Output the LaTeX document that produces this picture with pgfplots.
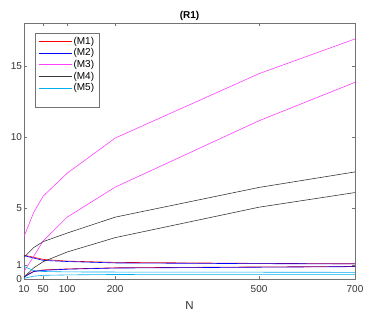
\documentclass[border=0pt]{standalone}
\usepackage{fontspec}
\setmainfont{Liberation Sans}
\usepackage{pgfplots}
\pgfplotsset{compat=1.18}
\definecolor{axgray}{gray}{0.45}
\definecolor{m4}{gray}{0.22}
\definecolor{m3}{rgb}{1,0.25,1}
\begin{document}
\begin{tikzpicture}
\begin{axis}[
  width=331pt, height=256pt, scale only axis,
  xmin=10, xmax=700, ymin=0, ymax=18,
  xtick={10,50,100,200,500,700},
  ytick={0,1,5,10,15},
  yticklabels={0\hspace{4pt},1\hspace{4pt},5,10,15},
  tick align=inside,
  major tick length=3pt,
  axis line style={axgray},
  tick style={axgray, line width=0.4pt},
  every tick label/.append style={font=\fontsize{10}{12}\selectfont, text=black!80},
  yticklabel style={xshift=1.5pt},
  xticklabel style={yshift=-3pt},
  /pgf/number format/assume math mode=true,
  xlabel={N},
  xlabel style={font=\fontsize{11.5}{13}\selectfont, text=black!80, yshift=-2pt},
  title={\textbf{(R1)}},
  title style={font=\fontsize{10}{12}\selectfont, yshift=-7pt},
  legend style={at={(rel axis cs:0.04,0.958)}, anchor=north west, draw=none, fill=white, font=\fontsize{10}{12}\selectfont, row sep=0pt, inner sep=1pt, nodes={inner sep=1.5pt}},
  legend cell align=left,
  legend image code/.code={\draw[#1] (0pt,0pt) -- (33pt,0pt);},
  every axis plot/.append style={line width=0.6pt},
]
\addlegendimage{draw=red, line width=0.6pt}
\addlegendentry{(M1)}
\addlegendimage{draw=blue, line width=0.6pt}
\addlegendentry{(M2)}
\addlegendimage{draw=m3, line width=0.6pt}
\addlegendentry{(M3)}
\addlegendimage{draw=m4, line width=0.6pt}
\addlegendentry{(M4)}
\addlegendimage{draw=cyan, line width=0.6pt}
\addlegendentry{(M5)}
% M1 red
\addplot[draw=red, forget plot] coordinates {(10,1.70) (30,1.55) (50,1.40) (100,1.28) (200,1.19) (500,1.12) (700,1.09)};
\addplot[draw=red, forget plot] coordinates {(10,0.18) (30,0.56) (50,0.66) (100,0.73) (200,0.81) (500,0.87) (700,0.90)};
% M2 blue
\addplot[draw=blue, forget plot] coordinates {(10,1.66) (30,1.50) (50,1.33) (100,1.25) (200,1.15) (500,1.10) (700,1.08)};
\addplot[draw=blue, forget plot] coordinates {(10,0.16) (30,0.54) (50,0.63) (100,0.71) (200,0.79) (500,0.85) (700,0.89)};
% M3 magenta
\addplot[draw=m3, forget plot] coordinates {(10,3.0) (30,4.69) (50,5.85) (100,7.46) (200,9.93) (500,14.46) (700,16.9)};
\addplot[draw=m3, forget plot] coordinates {(10,0.55) (30,1.6) (50,2.7) (100,4.37) (200,6.48) (500,11.15) (700,13.85)};
% M4 black
\addplot[draw=m4, forget plot] coordinates {(10,1.55) (30,2.23) (50,2.65) (100,3.25) (200,4.37) (500,6.46) (700,7.55)};
\addplot[draw=m4, forget plot] coordinates {(10,0.14) (30,0.8) (50,1.24) (100,1.92) (200,2.93) (500,5.07) (700,6.1)};
% M5 cyan
\addplot[draw=cyan, forget plot] coordinates {(10,0.9) (30,0.62) (50,0.55) (100,0.52) (200,0.51) (500,0.50) (700,0.49)};
\addplot[draw=cyan, forget plot] coordinates {(10,0.07) (30,0.22) (50,0.28) (100,0.31) (200,0.34) (500,0.35) (700,0.35)};
\end{axis}
\draw[axgray, line width=0.5pt] ([xshift=11pt,yshift=-10pt]current axis.north west) rectangle ([xshift=75pt,yshift=-84pt]current axis.north west);
\path ([xshift=-24pt,yshift=-39.7pt]current axis.south west) rectangle ([xshift=19pt,yshift=23.3pt]current axis.north east);
\end{tikzpicture}
\end{document}
